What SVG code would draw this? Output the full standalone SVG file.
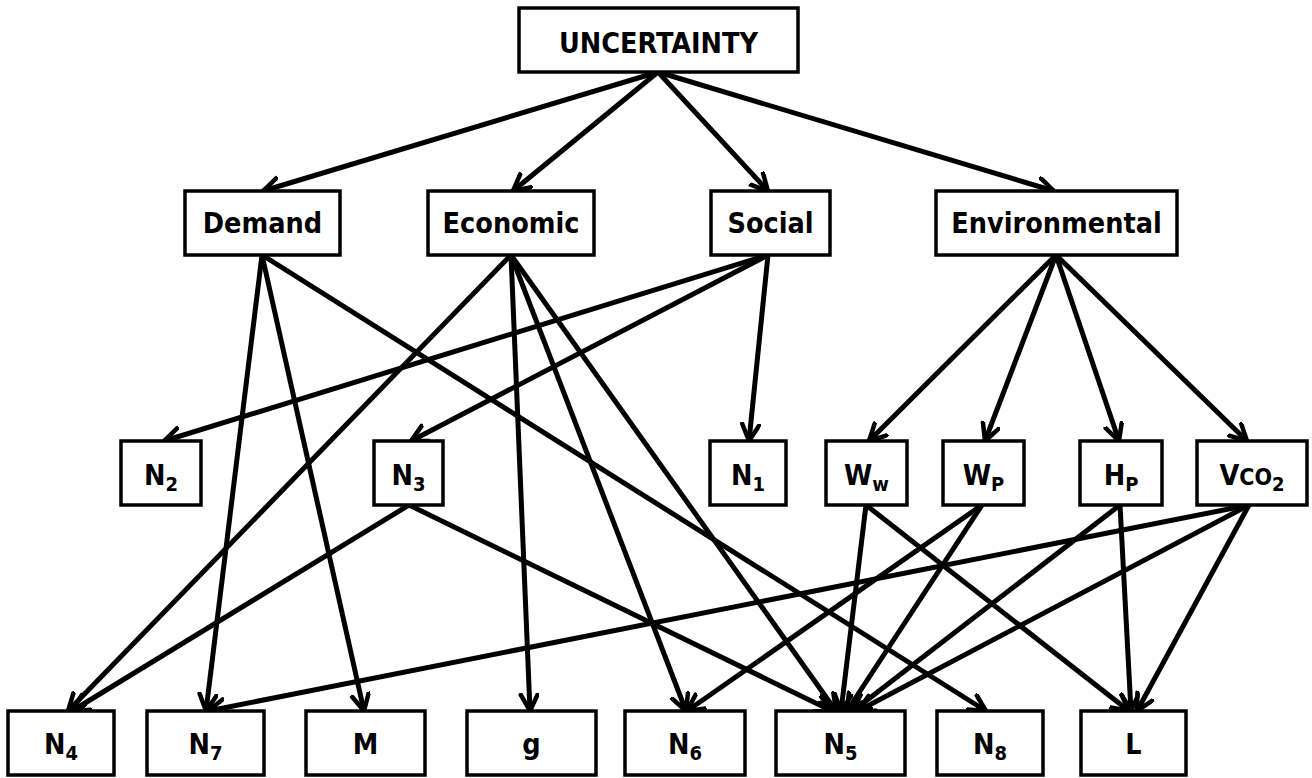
<svg xmlns="http://www.w3.org/2000/svg" width="1312" height="778" viewBox="0 0 1312 778">
<defs>
<style>
.box{fill:#fff;stroke:#000;stroke-width:3.5}
.lbl{font-family:'DejaVu Sans Condensed','DejaVu Sans',sans-serif;font-stretch:condensed;font-weight:bold;font-size:28.5px;fill:#000;text-anchor:middle}
.sub{font-size:20px}
.sc{font-size:23px}
.edges line{stroke:#000;stroke-width:5;marker-end:url(#ah)}
</style>
<marker id="ah" markerUnits="userSpaceOnUse" markerWidth="24" markerHeight="24" refX="18" refY="10" orient="auto">
<path d="M1.5,1.5 L18,10 L1.5,18.5" fill="none" stroke="#000" stroke-width="4.5" stroke-linecap="round" stroke-linejoin="round"/>
</marker>
</defs>
<rect width="1312" height="778" fill="#fff"/>
<g class="edges" id="connectors">
<line x1="658" y1="72" x2="263" y2="191"/>
<line x1="658" y1="72" x2="513" y2="191"/>
<line x1="658" y1="72" x2="768" y2="191"/>
<line x1="658" y1="72" x2="1054" y2="191"/>
<line x1="262" y1="255" x2="206" y2="711"/>
<line x1="262" y1="255" x2="364" y2="711"/>
<line x1="262" y1="255" x2="986" y2="711"/>
<line x1="511" y1="255" x2="68" y2="711"/>
<line x1="511" y1="255" x2="530" y2="711"/>
<line x1="511" y1="255" x2="686" y2="711"/>
<line x1="511" y1="255" x2="836" y2="711"/>
<line x1="768" y1="255" x2="164" y2="441"/>
<line x1="768" y1="255" x2="411" y2="441"/>
<line x1="768" y1="255" x2="749" y2="441"/>
<line x1="1056" y1="255" x2="869" y2="441"/>
<line x1="1056" y1="255" x2="985" y2="441"/>
<line x1="1056" y1="255" x2="1119" y2="441"/>
<line x1="1056" y1="255" x2="1247" y2="441"/>
<line x1="409" y1="505" x2="72" y2="711"/>
<line x1="409" y1="505" x2="832" y2="711"/>
<line x1="866" y1="505" x2="841" y2="711"/>
<line x1="866" y1="505" x2="1129" y2="711"/>
<line x1="982" y1="505" x2="687" y2="711"/>
<line x1="982" y1="505" x2="847" y2="711"/>
<line x1="1120" y1="505" x2="853" y2="711"/>
<line x1="1120" y1="505" x2="1131" y2="711"/>
<line x1="1249" y1="505" x2="208" y2="711"/>
<line x1="1249" y1="505" x2="858" y2="711"/>
<line x1="1249" y1="505" x2="1137" y2="711"/>
</g>
<g id="uncertainty"><rect class="box" x="519" y="8" width="279" height="64"/><text class="lbl" x="658.5" y="53">UNCERTAINTY</text></g>
<g id="demand"><rect class="box" x="185" y="191" width="155" height="64"/><text class="lbl" x="262.5" y="233">Demand</text></g>
<g id="economic"><rect class="box" x="428" y="191" width="166" height="64"/><text class="lbl" x="511" y="233">Economic</text></g>
<g id="social"><rect class="box" x="711" y="191" width="119" height="64"/><text class="lbl" x="770.5" y="233">Social</text></g>
<g id="environmental"><rect class="box" x="936" y="191" width="241" height="64"/><text class="lbl" x="1056.5" y="233">Environmental</text></g>
<g id="n2"><rect class="box" x="121" y="441" width="80" height="64"/><text class="lbl" x="161" y="485">N<tspan class="sub" dy="6">2</tspan></text></g>
<g id="n3"><rect class="box" x="374" y="441" width="69" height="64"/><text class="lbl" x="408.5" y="485">N<tspan class="sub" dy="6">3</tspan></text></g>
<g id="n1"><rect class="box" x="710" y="441" width="76" height="64"/><text class="lbl" x="748" y="485">N<tspan class="sub" dy="6">1</tspan></text></g>
<g id="ww"><rect class="box" x="826" y="441" width="81" height="64"/><text class="lbl" x="866.5" y="485">W<tspan class="sub" dy="6">w</tspan></text></g>
<g id="wp"><rect class="box" x="943" y="441" width="81" height="64"/><text class="lbl" x="983.5" y="485">W<tspan class="sub" dy="6">P</tspan></text></g>
<g id="hp"><rect class="box" x="1080" y="441" width="82" height="64"/><text class="lbl" x="1121" y="485">H<tspan class="sub" dy="6">P</tspan></text></g>
<g id="vco2"><rect class="box" x="1197" y="441" width="110" height="64"/><text class="lbl" x="1252" y="485">V<tspan class="sc">CO</tspan><tspan class="sub" dy="6">2</tspan></text></g>
<g id="n4"><rect class="box" x="8" y="711" width="106" height="64"/><text class="lbl" x="61" y="754">N<tspan class="sub" dy="6">4</tspan></text></g>
<g id="n7"><rect class="box" x="147" y="711" width="117" height="64"/><text class="lbl" x="205.5" y="754">N<tspan class="sub" dy="6">7</tspan></text></g>
<g id="m"><rect class="box" x="306" y="711" width="119" height="64"/><text class="lbl" x="365.5" y="754">M</text></g>
<g id="g"><rect class="box" x="467" y="711" width="129" height="64"/><text class="lbl" x="531.5" y="754">g</text></g>
<g id="n6"><rect class="box" x="625" y="711" width="120" height="64"/><text class="lbl" x="685" y="754">N<tspan class="sub" dy="6">6</tspan></text></g>
<g id="n5"><rect class="box" x="776" y="711" width="129" height="64"/><text class="lbl" x="840.5" y="754">N<tspan class="sub" dy="6">5</tspan></text></g>
<g id="n8"><rect class="box" x="937" y="711" width="106" height="64"/><text class="lbl" x="990" y="754">N<tspan class="sub" dy="6">8</tspan></text></g>
<g id="l"><rect class="box" x="1081" y="711" width="105" height="64"/><text class="lbl" x="1133.5" y="754">L</text></g>
</svg>
